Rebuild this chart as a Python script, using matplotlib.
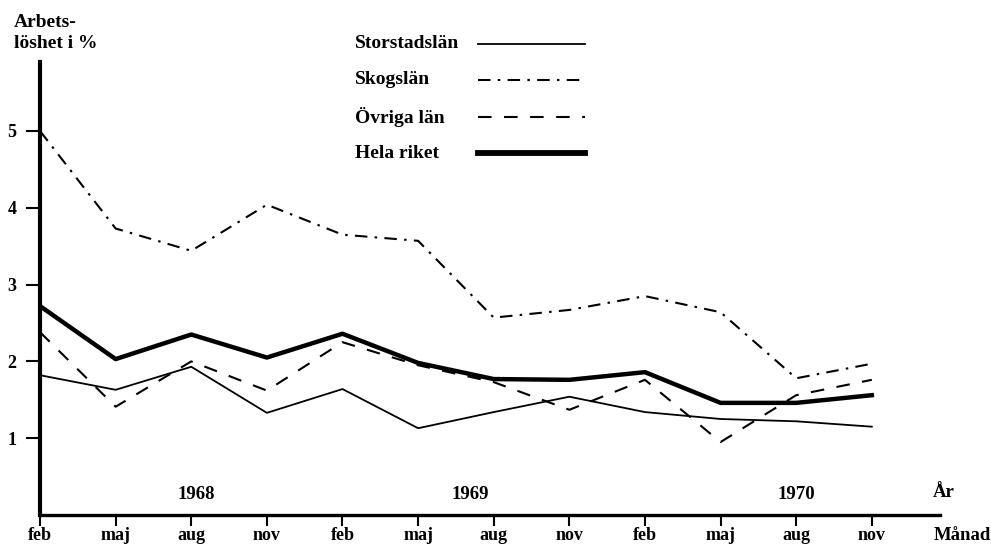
import matplotlib.pyplot as plt
from matplotlib.lines import Line2D

# kvartalsvärden feb 1968 - nov 1970, arbetslöshet i %
manader = ['feb', 'maj', 'aug', 'nov', 'feb', 'maj', 'aug', 'nov',
           'feb', 'maj', 'aug', 'nov']
storstadslan = [1.82, 1.63, 1.93, 1.33, 1.64, 1.13, 1.34, 1.54, 1.34, 1.25, 1.22, 1.15]
skogslan = [5.0, 3.73, 3.44, 4.04, 3.65, 3.57, 2.57, 2.67, 2.85, 2.64, 1.78, 1.97]
ovriga_lan = [2.38, 1.41, 2.0, 1.62, 2.25, 1.95, 1.73, 1.37, 1.76, 0.95, 1.56, 1.76]
hela_riket = [2.72, 2.03, 2.35, 2.05, 2.36, 1.98, 1.77, 1.76, 1.86, 1.46, 1.46, 1.56]
ar = ['1968', '1969', '1970']
ar_pos = [2.06, 5.69, 10.0]

plt.rcParams['font.family'] = ['Liberation Serif', 'DejaVu Serif']
plt.rcParams['font.weight'] = 'bold'

fig = plt.figure(figsize=(9.91, 5.44), dpi=100)
ax = fig.add_axes([0.0404, 0.0533, 0.908, 0.833])

x = list(range(len(manader)))
serier = [
    ('Storstadslän', storstadslan, dict(lw=1.3)),
    ('Skogslän', skogslan, dict(lw=1.5, dashes=(6, 3.5, 1.2, 3.5))),
    ('Övriga län', ovriga_lan, dict(lw=1.5, dashes=(6.5, 6))),
    ('Hela riket', hela_riket, dict(lw=3.2)),
]
for namn, y, stil in serier:
    ax.plot(x, y, color='black', label=namn, **stil)

ax.set_xlim(0, 11.9)
ax.set_ylim(0, 5.9)

for s in ['top', 'right']:
    ax.spines[s].set_visible(False)
ax.spines['left'].set_linewidth(3.0)
ax.spines['bottom'].set_linewidth(2.4)

ax.set_yticks([1, 2, 3, 4, 5])
ax.set_yticklabels(['1', '2', '3', '4', '5'], fontsize=13, fontweight='bold')
ax.set_xticks(x)
ax.set_xticklabels(manader, fontsize=13, fontweight='bold')
ax.tick_params(axis='y', length=10, width=1.5, direction='out', pad=7)
ax.tick_params(axis='x', length=8, width=1.5, direction='out', pad=0.5)

for a, p in zip(ar, ar_pos):
    ax.text(p, 0.27, a, ha='center', va='center', fontsize=13.5, fontweight='bold')
ax.text(11.95, 0.29, 'År', ha='center', va='center', fontsize=13.5, fontweight='bold')
fig.text(0.942, 1 - 535 / 544, 'Månad', ha='left', va='center', fontsize=13.5,
         fontweight='bold')
fig.text(0.014, 0.975, 'Arbets-\nlöshet i %', ha='left', va='top', fontsize=14,
         fontweight='bold', linespacing=1.3)

# teckenförklaring, texten vänsterställd som i originalet
rad_y = [44, 80, 117, 153]
for (namn, y, stil), ry in zip(serier, rad_y):
    fy = 1 - ry / 544
    fig.text(355 / 991, fy, namn, ha='left', va='center', fontsize=14, fontweight='bold')
    hstil = dict(stil)
    if namn == 'Hela riket':
        hstil['lw'] = 4.2
    fig.add_artist(Line2D([478 / 991, 585 / 991], [fy, fy], color='black',
                          transform=fig.transFigure, **hstil))

fig.savefig('out.png', dpi=100)
